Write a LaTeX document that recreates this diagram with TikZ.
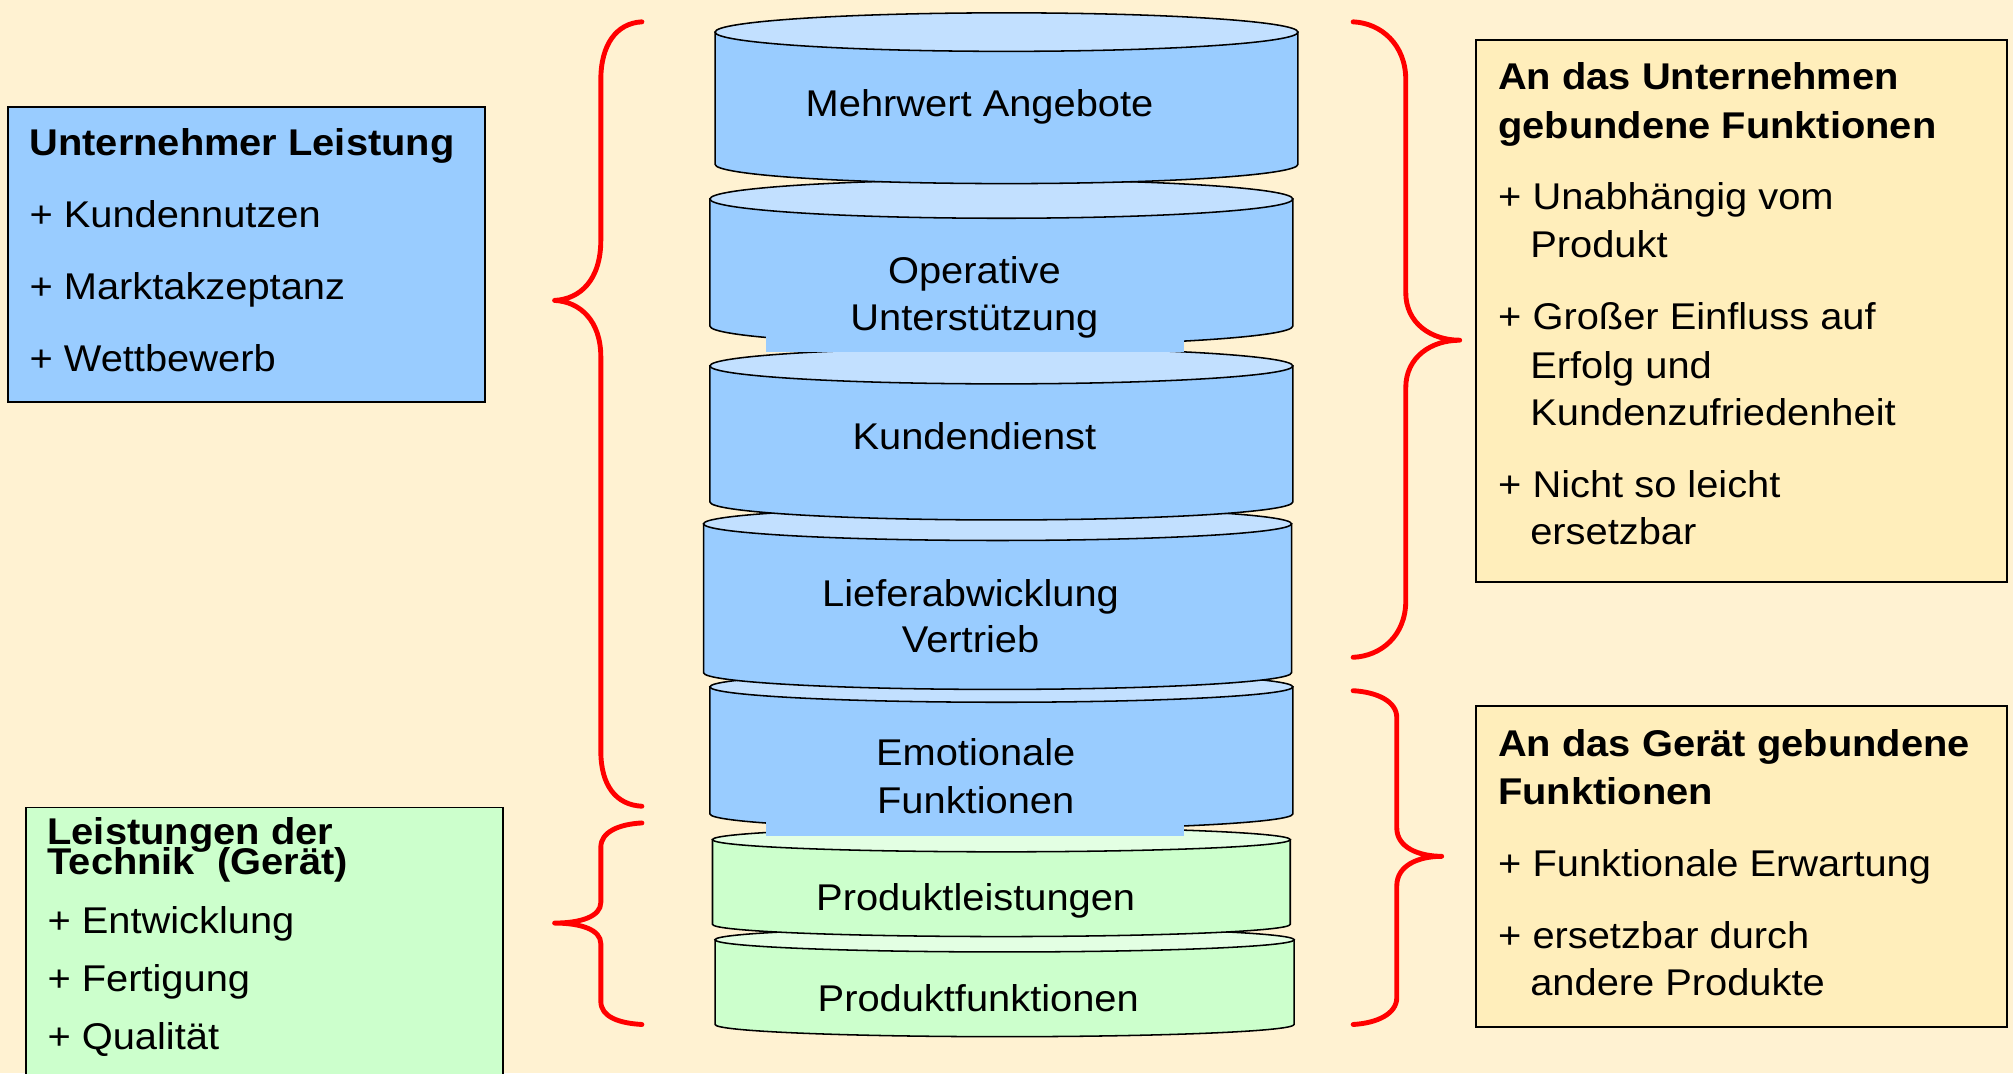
\documentclass[tikz,border=0pt]{standalone}
\usepackage{fontspec}
\setmainfont{Liberation Sans}[FakeStretch=1.07]

\definecolor{bgcream}{HTML}{FFF2D2}
\definecolor{cylblue}{HTML}{99CCFF}
\definecolor{cyltop}{HTML}{C2E0FF}
\definecolor{cylgreen}{HTML}{CCFFCC}
\definecolor{cylgreentop}{HTML}{E3FFE3}
\definecolor{notefill}{HTML}{FFEEBB}
\definecolor{bracered}{HTML}{FF0000}

% drum: xl, xr, y of top ellipse, y of bottom ellipse, y radius, body colour, lid colour
\newcommand\drumshape[7]{%
  \filldraw[cylline, fill=#6] (#1,#3) -- (#1,#4)
    arc[start angle=180, end angle=0, x radius={(#2-#1)/2}, y radius=#5]
    -- (#2,#3) -- cycle;
  \filldraw[cylline, fill=#7] ({(#1+#2)/2},#3) ellipse[x radius={(#2-#1)/2}, y radius=#5];
}

\begin{document}
\begin{tikzpicture}[x=1pt, y=-1pt,
  every node/.style={inner sep=0pt, outer sep=0pt},
  txt/.style={anchor=base west, font=\fontsize{29}{35}\selectfont},
  ttl/.style={anchor=base west, font=\fontsize{29}{35}\selectfont\bfseries},
  ctxt/.style={anchor=base, font=\fontsize{29}{35}\selectfont},
  box/.style={draw=black, line width=1.5pt, rectangle},
  brace/.style={draw=bracered, line width=3.8pt, line cap=round, line join=round},
  cylline/.style={draw=black, line width=1.2pt}]

\useasboundingbox (0,0) rectangle (1568,836);
\fill[bgcream] (0,0) rectangle (1568,836);

% ---- stack of drums, lowest first so upper rims overlap ----
\drumshape{557}{1008}{732}{798}{9.5}{cylgreen}{cylgreentop}
\node[ctxt] (c7) at (762,787.5) {Produktfunktionen};

\drumshape{555}{1005}{654}{720}{9.5}{cylgreen}{cylgreentop}
\node[ctxt] (c6) at (760,709.5) {Produktleistungen};

\drumshape{553}{1007}{535}{634}{12}{cylblue}{cyltop}
\node[fill=cylblue, minimum width=325pt, minimum height=91pt] (c5f) at (759.5,605.5) {};
\node[ctxt] (c5a) at (760,596.5) {Emotionale};
\node[ctxt] (c5b) at (760,633.5) {Funktionen};

\drumshape{548}{1006}{408}{524}{13}{cylblue}{cyltop}
\node[ctxt] (c4a) at (756,472.5) {Lieferabwicklung};
\node[ctxt] (c4b) at (756,508.5) {Vertrieb};

\drumshape{553}{1007}{285}{391}{14}{cylblue}{cyltop}
\node[ctxt] (c3) at (759,350.5) {Kundendienst};

\drumshape{553}{1007}{155}{254}{15}{cylblue}{cyltop}
\node[fill=cylblue, minimum width=325pt, minimum height=91pt] (c2f) at (759.5,228.5) {};
\node[ctxt] (c2a) at (759,220.5) {Operative};
\node[ctxt] (c2b) at (759,257.5) {Unterstützung};

\drumshape{557}{1011}{25}{128}{15}{cylblue}{cyltop}
\node[ctxt] (c1) at (763,90.5) {Mehrwert Angebote};

% ---- left boxes ----
\node[box, fill=cylblue, minimum width=372pt, minimum height=230pt] (lt) at (192,198) {};
\node[ttl] (lt0) at (23,121.5) {Unternehmer Leistung};
\node[txt] (lt1) at (23,177.5) {+ Kundennutzen};
\node[txt] (lt2) at (23,233.5) {+ Marktakzeptanz};
\node[txt] (lt3) at (23,289.5) {+ Wettbewerb};

\node[box, fill=cylgreen, minimum width=372pt, minimum height=221pt] (lb) at (206,739.5) {};
\node[ttl] (lb0) at (37,657.5) {Leistungen der};
\node[ttl] (lb1) at (37,681.5) {Technik\ \ (Gerät)};
\node[txt] (lb2) at (37,727.5) {+ Entwicklung};
\node[txt] (lb3) at (37,772.5) {+ Fertigung};
\node[txt] (lb4) at (37,817.5) {+ Qualität};

% ---- right boxes ----
\node[box, fill=notefill, minimum width=413pt, minimum height=422pt] (rt) at (1356.5,242) {};
\node[ttl] (rt0) at (1167,69.5) {An das Unternehmen};
\node[ttl] (rt1) at (1167,107.5) {gebundene Funktionen};
\node[txt] (rt2) at (1167,163.5) {+ Unabhängig vom};
\node[txt] (rt3) at (1192,200.5) {Produkt};
\node[txt] (rt4) at (1167,256.5) {+ Großer Einfluss auf};
\node[txt] (rt5) at (1192,294.5) {Erfolg und};
\node[txt] (rt6) at (1192,331.5) {Kundenzufriedenheit};
\node[txt] (rt7) at (1167,387.5) {+ Nicht so leicht};
\node[txt] (rt8) at (1192,424.5) {ersetzbar};

\node[box, fill=notefill, minimum width=413pt, minimum height=250pt] (rb) at (1356.5,675) {};
\node[ttl] (rb0) at (1167,589.5) {An das Gerät gebundene};
\node[ttl] (rb1) at (1167,626.5) {Funktionen};
\node[txt] (rb2) at (1167,682.5) {+ Funktionale Erwartung};
\node[txt] (rb3) at (1167,738.5) {+ ersetzbar durch};
\node[txt] (rb4) at (1192,775.5) {andere Produkte};

% ---- curly braces ----
\draw[brace] (500,17) .. controls (480,18) and (468,35) .. (468,62) -- (468,187)
  .. controls (468,218) and (452,233) .. (432,234)
  .. controls (452,235) and (468,250) .. (468,278) -- (468,585)
  .. controls (468,612) and (480,627) .. (500,628);

\draw[brace] (500,641) .. controls (482,642) and (468,648) .. (468,660) -- (468,703)
  .. controls (468,714) and (452,719) .. (432,719)
  .. controls (452,719) and (468,724) .. (468,735) -- (468,780)
  .. controls (468,792) and (482,797) .. (500,798);

\draw[brace] (1054,17) .. controls (1076,18) and (1095,35) .. (1095,62) -- (1095,228)
  .. controls (1095,252) and (1115,265) .. (1137,265)
  .. controls (1115,265) and (1095,278) .. (1095,302) -- (1095,468)
  .. controls (1095,495) and (1076,511) .. (1054,512);

\draw[brace] (1054,538) .. controls (1072,539) and (1088,546) .. (1088,559) -- (1088,645)
  .. controls (1088,660) and (1105,667) .. (1123,667)
  .. controls (1105,667) and (1088,674) .. (1088,690) -- (1088,777)
  .. controls (1088,790) and (1072,797) .. (1054,798);

\end{tikzpicture}
\end{document}
